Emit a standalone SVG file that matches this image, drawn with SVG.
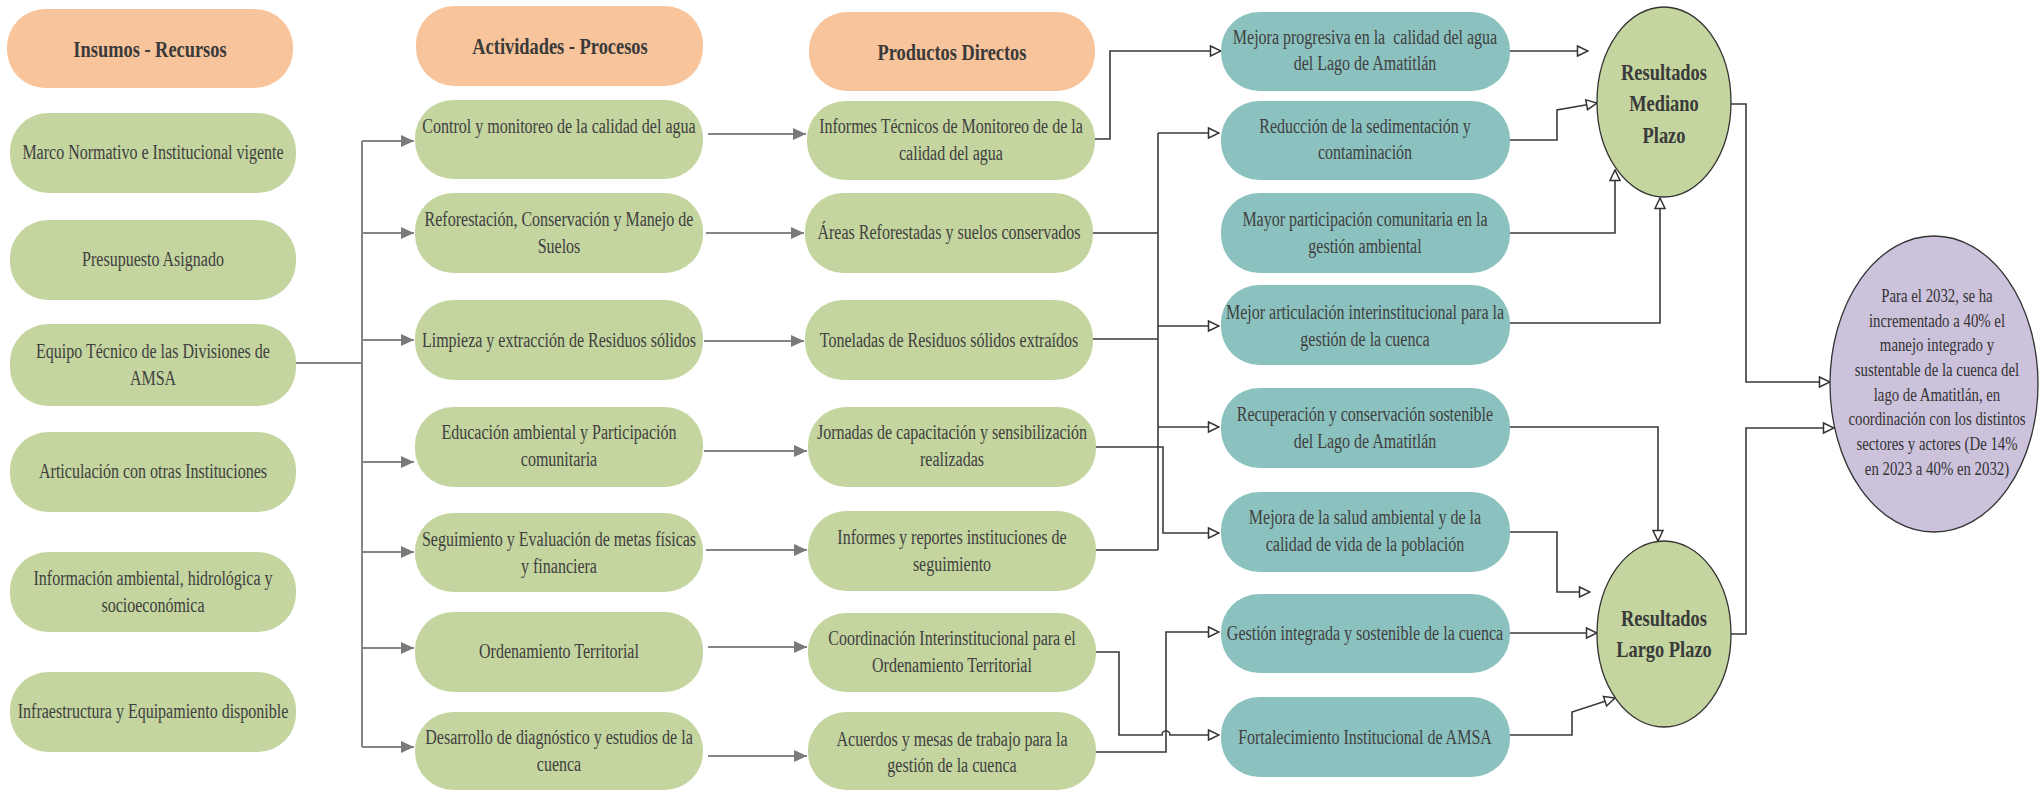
<svg xmlns="http://www.w3.org/2000/svg" width="2039" height="791" viewBox="0 0 2039 791">
<style>
.hd{fill:#F8C49B}
.g{fill:#C4D59F}
.tl{fill:#8BC2BF}
.el{fill:#C4D59F;stroke:#333;stroke-width:1.3}
.pu{fill:#CCC2DC;stroke:#333;stroke-width:1.3}
text{font-family:"Liberation Serif","Times New Roman",serif;fill:#404040;text-anchor:middle;transform-box:fill-box;transform-origin:center;transform:scaleX(0.8)}
.t{font-size:20px}
.h{font-size:23px;font-weight:bold;fill:#3a3a3a}
.p{font-size:18.5px;fill:#333}
.cg{fill:none;stroke:#858585;stroke-width:2}
.cd{fill:none;stroke:#3a3a3a;stroke-width:1.6}
</style>
<defs>
<marker id="af" markerUnits="userSpaceOnUse" viewBox="0 0 13 12" refX="13" refY="6" markerWidth="13" markerHeight="12" orient="auto">
<path d="M0,0 L13,6 L0,12 z" fill="#7a7a7a"/>
</marker>
<marker id="ao" markerUnits="userSpaceOnUse" viewBox="0 0 13 13" refX="12" refY="6.5" markerWidth="13" markerHeight="13" orient="auto">
<path d="M1.5,1.5 L12,6.5 L1.5,11.5 z" fill="#fff" stroke="#333" stroke-width="1.5"/>
</marker>
</defs>

<g id="connectors">
<path class="cg" d="M296,363 H362 M362,141 V747"/>
<path class="cg" marker-end="url(#af)" d="M362,141 H414"/>
<path class="cg" marker-end="url(#af)" d="M362,233 H414"/>
<path class="cg" marker-end="url(#af)" d="M362,340 H414"/>
<path class="cg" marker-end="url(#af)" d="M362,462 H414"/>
<path class="cg" marker-end="url(#af)" d="M362,552 H414"/>
<path class="cg" marker-end="url(#af)" d="M362,648 H414"/>
<path class="cg" marker-end="url(#af)" d="M362,747 H414"/>
<path class="cg" marker-end="url(#af)" d="M708,134 H806"/>
<path class="cg" marker-end="url(#af)" d="M706,233 H804"/>
<path class="cg" marker-end="url(#af)" d="M704,341 H804"/>
<path class="cg" marker-end="url(#af)" d="M704,451 H807"/>
<path class="cg" marker-end="url(#af)" d="M706,550 H807"/>
<path class="cg" marker-end="url(#af)" d="M708,647 H807"/>
<path class="cg" marker-end="url(#af)" d="M708,756 H807"/>

<path class="cd" marker-end="url(#ao)" d="M1095,139 H1110 V51 H1221"/>
<path class="cd" d="M1158,133 V550 M1092,233 H1158 M1092,339 H1158 M1096,550 H1158"/>
<path class="cd" marker-end="url(#ao)" d="M1158,133 H1219"/>
<path class="cd" marker-end="url(#ao)" d="M1158,326 H1219"/>
<path class="cd" marker-end="url(#ao)" d="M1158,427 H1219"/>
<path class="cd" marker-end="url(#ao)" d="M1096,447 H1163 V533 H1219"/>
<path class="cd" marker-end="url(#ao)" d="M1096,752 H1166 V632 H1219"/>
<path class="cd" marker-end="url(#ao)" d="M1096,652 H1119 V735 H1162 A4,4 0 0 1 1170,735 H1219"/>

<path class="cd" marker-end="url(#ao)" d="M1510,51 H1588"/>
<path class="cd" marker-end="url(#ao)" d="M1510,140 H1557 V110 L1597,103"/>
<path class="cd" marker-end="url(#ao)" d="M1510,233 H1615 V170"/>
<path class="cd" marker-end="url(#ao)" d="M1510,323 H1660 V198"/>
<path class="cd" marker-end="url(#ao)" d="M1510,427 H1658 V541"/>
<path class="cd" marker-end="url(#ao)" d="M1510,532 H1557 V592 H1590"/>
<path class="cd" marker-end="url(#ao)" d="M1510,633 H1597"/>
<path class="cd" marker-end="url(#ao)" d="M1510,735 H1572 V712 L1615,698"/>
<path class="cd" marker-end="url(#ao)" d="M1731,104 H1746 V382 H1830"/>
<path class="cd" marker-end="url(#ao)" d="M1731,634 H1746 V428 H1834"/>
</g>

<g id="h1"><rect class="hd" x="7" y="9" width="286" height="79" rx="38"/><text class="h" x="150" y="57">Insumos - Recursos</text></g>
<g id="h2"><rect class="hd" x="416" y="6" width="287" height="80" rx="38"/><text class="h" x="560" y="54">Actividades - Procesos</text></g>
<g id="h3"><rect class="hd" x="809" y="12" width="286" height="79" rx="38"/><text class="h" x="952" y="60">Productos Directos</text></g>

<g id="i1"><rect class="g" x="10" y="113" width="286" height="80" rx="38"/><text class="t" x="153" y="159">Marco Normativo e Institucional vigente</text></g>
<g id="i2"><rect class="g" x="10" y="220" width="286" height="80" rx="38"/><text class="t" x="153" y="266">Presupuesto Asignado</text></g>
<g id="i3"><rect class="g" x="10" y="324" width="286" height="82" rx="38"/><text class="t" x="153" y="358"><tspan x="153">Equipo Técnico de las Divisiones de</tspan><tspan x="153" dy="27">AMSA</tspan></text></g>
<g id="i4"><rect class="g" x="10" y="432" width="286" height="80" rx="38"/><text class="t" x="153" y="478">Articulación con otras Instituciones</text></g>
<g id="i5"><rect class="g" x="10" y="552" width="286" height="80" rx="38"/><text class="t" x="153" y="585"><tspan x="153">Información ambiental, hidrológica y</tspan><tspan x="153" dy="27">socioeconómica</tspan></text></g>
<g id="i6"><rect class="g" x="10" y="672" width="286" height="80" rx="38"/><text class="t" x="153" y="718">Infraestructura y Equipamiento disponible</text></g>

<g id="a1"><rect class="g" x="415" y="100" width="288" height="79" rx="38"/><text class="t" x="559" y="133">Control y monitoreo de la calidad del agua</text></g>
<g id="a2"><rect class="g" x="415" y="193" width="288" height="80" rx="38"/><text class="t" x="559" y="226"><tspan x="559">Reforestación, Conservación y Manejo de</tspan><tspan x="559" dy="27">Suelos</tspan></text></g>
<g id="a3"><rect class="g" x="415" y="300" width="288" height="80" rx="38"/><text class="t" x="559" y="347">Limpieza y extracción de Residuos sólidos</text></g>
<g id="a4"><rect class="g" x="415" y="407" width="288" height="80" rx="38"/><text class="t" x="559" y="439"><tspan x="559">Educación ambiental y Participación</tspan><tspan x="559" dy="27">comunitaria</tspan></text></g>
<g id="a5"><rect class="g" x="415" y="513" width="288" height="79" rx="38"/><text class="t" x="559" y="546"><tspan x="559">Seguimiento y Evaluación de metas físicas</tspan><tspan x="559" dy="27">y financiera</tspan></text></g>
<g id="a6"><rect class="g" x="415" y="612" width="288" height="80" rx="38"/><text class="t" x="559" y="658">Ordenamiento Territorial</text></g>
<g id="a7"><rect class="g" x="415" y="712" width="288" height="78" rx="38"/><text class="t" x="559" y="744"><tspan x="559">Desarrollo de diagnóstico y estudios de la</tspan><tspan x="559" dy="27">cuenca</tspan></text></g>

<g id="p1"><rect class="g" x="807" y="101" width="288" height="79" rx="38"/><text class="t" x="951" y="133"><tspan x="951">Informes Técnicos de Monitoreo de de la</tspan><tspan x="951" dy="27">calidad del agua</tspan></text></g>
<g id="p2"><rect class="g" x="805" y="193" width="288" height="80" rx="38"/><text class="t" x="949" y="239">Áreas Reforestadas y suelos conservados</text></g>
<g id="p3"><rect class="g" x="805" y="300" width="288" height="80" rx="38"/><text class="t" x="949" y="347">Toneladas de Residuos sólidos extraídos</text></g>
<g id="p4"><rect class="g" x="808" y="407" width="288" height="80" rx="38"/><text class="t" x="952" y="439"><tspan x="952">Jornadas de capacitación y sensibilización</tspan><tspan x="952" dy="27">realizadas</tspan></text></g>
<g id="p5"><rect class="g" x="808" y="511" width="288" height="80" rx="38"/><text class="t" x="952" y="544"><tspan x="952">Informes y reportes instituciones de</tspan><tspan x="952" dy="27">seguimiento</tspan></text></g>
<g id="p6"><rect class="g" x="808" y="613" width="288" height="79" rx="38"/><text class="t" x="952" y="645"><tspan x="952">Coordinación Interinstitucional para el</tspan><tspan x="952" dy="27">Ordenamiento Territorial</tspan></text></g>
<g id="p7"><rect class="g" x="808" y="712" width="288" height="78" rx="38"/><text class="t" x="952" y="746"><tspan x="952">Acuerdos y mesas de trabajo para la</tspan><tspan x="952" dy="26">gestión de la cuenca</tspan></text></g>

<g id="r1"><rect class="tl" x="1221" y="12" width="289" height="79" rx="38"/><text class="t" x="1365" y="44" xml:space="preserve"><tspan x="1365">Mejora progresiva en la  calidad del agua</tspan><tspan x="1365" dy="26">del Lago de Amatitlán</tspan></text></g>
<g id="r2"><rect class="tl" x="1221" y="101" width="289" height="79" rx="38"/><text class="t" x="1365" y="133"><tspan x="1365">Reducción de la sedimentación y</tspan><tspan x="1365" dy="26">contaminación</tspan></text></g>
<g id="r3"><rect class="tl" x="1221" y="193" width="289" height="80" rx="38"/><text class="t" x="1365" y="226"><tspan x="1365">Mayor participación comunitaria en la</tspan><tspan x="1365" dy="27">gestión ambiental</tspan></text></g>
<g id="r4"><rect class="tl" x="1221" y="285" width="289" height="80" rx="38"/><text class="t" x="1365" y="319"><tspan x="1365">Mejor articulación interinstitucional para la</tspan><tspan x="1365" dy="27">gestión de la cuenca</tspan></text></g>
<g id="r5"><rect class="tl" x="1221" y="388" width="289" height="80" rx="38"/><text class="t" x="1365" y="421"><tspan x="1365">Recuperación y conservación sostenible</tspan><tspan x="1365" dy="27">del Lago de Amatitlán</tspan></text></g>
<g id="r6"><rect class="tl" x="1221" y="492" width="289" height="80" rx="38"/><text class="t" x="1365" y="524"><tspan x="1365">Mejora de la salud ambiental y de la</tspan><tspan x="1365" dy="27">calidad de vida de la población</tspan></text></g>
<g id="r7"><rect class="tl" x="1221" y="594" width="289" height="79" rx="38"/><text class="t" x="1365" y="640">Gestión integrada y sostenible de la cuenca</text></g>
<g id="r8"><rect class="tl" x="1221" y="697" width="289" height="80" rx="38"/><text class="t" x="1365" y="744">Fortalecimiento Institucional de AMSA</text></g>

<g id="mediano"><ellipse class="el" cx="1664" cy="102" rx="67" ry="95"/><text class="h" x="1664" y="80"><tspan x="1664">Resultados</tspan><tspan x="1664" dy="31">Mediano</tspan><tspan x="1664" dy="32">Plazo</tspan></text></g>
<g id="largo"><ellipse class="el" cx="1664" cy="634" rx="67" ry="93"/><text class="h" x="1664" y="626"><tspan x="1664">Resultados</tspan><tspan x="1664" dy="31">Largo Plazo</tspan></text></g>
<g id="impacto"><ellipse class="pu" cx="1934" cy="384" rx="104" ry="148"/><text class="p" x="1937" y="302"><tspan x="1937">Para el 2032, se ha</tspan><tspan x="1937" dy="24.7">incrementado a 40% el</tspan><tspan x="1937" dy="24.7">manejo integrado y</tspan><tspan x="1937" dy="24.7">sustentable de la cuenca del</tspan><tspan x="1937" dy="24.7">lago de Amatitlán, en</tspan><tspan x="1937" dy="24.7">coordinación con los distintos</tspan><tspan x="1937" dy="24.7">sectores y actores (De 14%</tspan><tspan x="1937" dy="24.7">en 2023 a 40% en 2032)</tspan></text></g>
</svg>
